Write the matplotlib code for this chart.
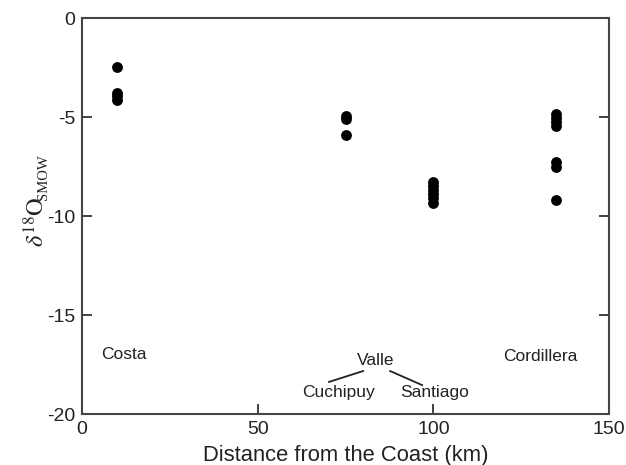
import matplotlib
matplotlib.use("Agg")
import matplotlib.pyplot as plt

# data
costa_x = [10, 10, 10, 10]
costa_y = [-2.45, -3.8, -3.95, -4.15]
cuchipuy_x = [75, 75, 75]
cuchipuy_y = [-4.97, -5.1, -5.93]
santiago_x = [100, 100, 100, 100, 100, 100]
santiago_y = [-8.26, -8.48, -8.7, -8.9, -9.1, -9.32]
cordillera_x = [135, 135, 135, 135, 135, 135, 135]
cordillera_y = [-4.85, -5.05, -5.25, -5.45, -7.27, -7.5, -9.2]

xticks = [0, 50, 100, 150]
yticks = [0, -5, -10, -15, -20]

plt.rcParams['font.family'] = ['Liberation Sans', 'DejaVu Sans']
plt.rcParams['mathtext.fontset'] = 'stix'

W, H = 626, 465
fig = plt.figure(figsize=(W/100, H/100), dpi=100)
ax = fig.add_axes([82/W, 1-414/H, (609-82)/W, (414-18)/H])

allx = costa_x + cuchipuy_x + santiago_x + cordillera_x
ally = costa_y + cuchipuy_y + santiago_y + cordillera_y
ax.plot(allx, ally, 'o', color='black', markersize=7.8, markeredgewidth=0)

ax.set_xlim(0, 150)
ax.set_ylim(-20, 0)
ax.set_xticks(xticks)
ax.set_yticks(yticks)
ax.set_yticklabels([str(v) for v in yticks])
ax.tick_params(direction='in', length=7, width=1.3, labelsize=14, colors='#333333',
               labelcolor='#222222', right=True, top=False, pad=5)
for s in ax.spines.values():
    s.set_linewidth(1.5)
    s.set_color('#444444')

ax.set_xlabel('Distance from the Coast (km)', fontsize=15.8, color='#222222', labelpad=5)

# y label: delta-18-O with small SMOW subscript
fig.text(36/W, 1-247/H, r'$\delta^{18}\mathrm{O}$', rotation=90, fontsize=17.5,
         color='#222222', ha='center', va='bottom')
fig.text(43/W, 1-200/H, 'SMOW', rotation=90, fontsize=10.5, family='Liberation Serif',
         color='#222222', ha='center', va='bottom')

tc = '#222222'
ax.text(12, -17.0, 'Costa', ha='center', va='center', fontsize=12.5, color=tc)
ax.text(83.5, -17.3, 'Valle', ha='center', va='center', fontsize=12.5, color=tc)
ax.text(72.9, -18.9, 'Cuchipuy', ha='center', va='center', fontsize=12.5, color=tc)
ax.text(100.3, -18.9, 'Santiago', ha='center', va='center', fontsize=12.5, color=tc)
ax.text(130.4, -17.1, 'Cordillera', ha='center', va='center', fontsize=12.5, color=tc)
ax.plot([70.3, 80.0], [-18.38, -17.83], color='#222222', lw=1.3)
ax.plot([87.7, 96.8], [-17.83, -18.54], color='#222222', lw=1.3)

fig.savefig('out.png', dpi=100)
